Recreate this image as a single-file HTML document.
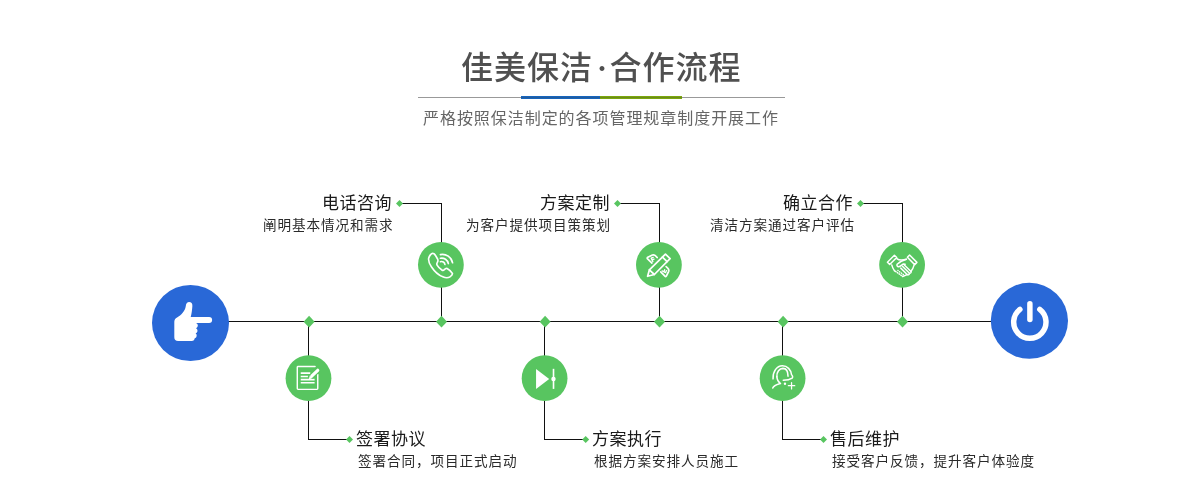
<!DOCTYPE html>
<html lang="zh-CN">
<head>
<meta charset="utf-8">
<title>佳美保洁·合作流程</title>
<style>
html,body{margin:0;padding:0;background:#fff;}
body{width:1202px;height:502px;position:relative;overflow:hidden;font-family:"Liberation Sans","Noto Sans CJK SC",sans-serif;}
#gfx{position:absolute;left:0;top:0;width:1202px;height:502px;}
.t{position:absolute;white-space:nowrap;line-height:1;will-change:transform;}
.title{left:461px;top:52px;font-size:32px;color:#505050;letter-spacing:1px;font-weight:500;}
.title i{font-style:normal;font-family:"Noto Sans CJK SC",sans-serif;font-size:21px;margin:0 -4px 0 -1.5px;position:relative;top:-3.5px;}
.sub{left:423px;top:110.5px;font-size:16px;color:#666;letter-spacing:0.95px;}
.h{font-size:17px;color:#1a1a1a;font-weight:400;letter-spacing:0.5px;}
.d{font-size:13.6px;color:#2a2a2a;font-weight:400;letter-spacing:0.9px;}
.r{text-align:right;}
</style>
</head>
<body>
<svg id="gfx" width="1202" height="502" viewBox="0 0 1202 502">
<rect x="418" y="97" width="367" height="1" fill="#999"/>
<rect x="521" y="96" width="79" height="3" fill="#1665bd"/>
<rect x="600" y="96" width="82" height="3" fill="#7ba70c"/>
<rect x="521" y="97" width="161" height="1" fill="#444" fill-opacity="0.3"/>
<g fill="none" stroke="#111" stroke-width="1.2" shape-rendering="crispEdges">
<path d="M228 321.5H992"/>
<path d="M399.5 203.5H441.5V321"/>
<path d="M617.5 203.5H659.5V321"/>
<path d="M860.5 203.5H902.5V321"/>
<path d="M308.5 321V439.5H349.5"/>
<path d="M544.5 321V439.5H585.7"/>
<path d="M782.5 321V439.5H823.5"/>
</g>
<g fill="#58c560">
<path d="M309.10 315.80L314.60 321.70L309.10 327.60L303.60 321.70Z"/>
<path d="M441.50 315.80L447.00 321.70L441.50 327.60L436.00 321.70Z"/>
<path d="M545.10 315.80L550.60 321.70L545.10 327.60L539.60 321.70Z"/>
<path d="M659.50 315.80L665.00 321.70L659.50 327.60L654.00 321.70Z"/>
<path d="M783.10 315.80L788.60 321.70L783.10 327.60L777.60 321.70Z"/>
<path d="M902.50 315.80L908.00 321.70L902.50 327.60L897.00 321.70Z"/>
<path d="M399.50 200.00L403.00 203.50L399.50 207.00L396.00 203.50Z"/>
<path d="M617.50 200.00L621.00 203.50L617.50 207.00L614.00 203.50Z"/>
<path d="M860.50 200.00L864.00 203.50L860.50 207.00L857.00 203.50Z"/>
<path d="M349.50 436.00L353.00 439.50L349.50 443.00L346.00 439.50Z"/>
<path d="M585.70 436.00L589.20 439.50L585.70 443.00L582.20 439.50Z"/>
<path d="M823.50 436.00L827.00 439.50L823.50 443.00L820.00 439.50Z"/>
<circle cx="440.9" cy="264.8" r="22.9"/>
<circle cx="658.9" cy="264.9" r="22.9"/>
<circle cx="902.1" cy="264.9" r="22.9"/>
<circle cx="308.5" cy="378.2" r="22.9"/>
<circle cx="544.6" cy="378.2" r="22.9"/>
<circle cx="782.6" cy="378.2" r="22.9"/>
</g>
<ellipse cx="190.5" cy="323" rx="38.5" ry="38.1" fill="#2968d7"/>
<ellipse cx="1029.4" cy="320.8" rx="38.6" ry="38" fill="#2968d7"/>
<g transform="translate(165 295) scale(0.10949)" fill="#fff"><path d="M85 245C85 225 94 214 110 205C148 182 183 148 190 100C192 78 205 65 220 65C240 65 252 80 250 100C248 135 243 170 235 200H403A27.500 27.500 0 0 1 403 255H284A26 26 0 0 1 284 303A26 26 0 0 1 280 350A26 26 0 0 1 272 395A28 28 0 0 1 247 420H120A35 35 0 0 1 85 385Z"/></g>
<g transform="translate(1000 295) scale(0.10949)" fill="none" stroke="#fff" stroke-width="50" stroke-linecap="round"><path d="M181.700 131.300A147.500 147.500 0 1 0 363.300 131.300"/><path d="M273 80V223"/></g>
<g transform="translate(417 241) scale(0.09562)" fill="none" stroke="#fff" stroke-width="17" stroke-linecap="round" stroke-linejoin="round"><path d="M165 130C150 128 128 155 122 180C118 205 130 240 150 270C180 315 230 360 270 375C300 388 325 388 345 375C360 365 375 352 370 338C360 320 335 300 315 288C305 283 295 290 285 300C278 308 270 310 260 303C240 290 222 272 212 255C205 243 205 235 212 225C220 212 222 200 215 188C205 170 190 145 180 135C175 131 170 130 165 130Z"/><path d="M245 142A108 108 0 0 1 372 228"/><path d="M245 180A70 70 0 0 1 328 236"/><path d="M245 216A36 36 0 0 1 292 246"/></g>
<g transform="translate(643 249) scale(0.06375)" fill="none" stroke="#fff" stroke-width="27" stroke-linecap="round" stroke-linejoin="round"><path d="M222 135C200 105 175 86 148 95L76 130Q58 141 72 154L140 220"/><path d="M128 143L155 198M128 143L160 130M142 170L174 158" stroke-width="20"/><path d="M363 276C393 298 412 323 403 350L368 422Q357 440 344 426L278 358"/><path d="M355 370L300 343M355 370L368 338M328 356L340 324" stroke-width="20"/><path d="M352 80L425 152L178 400L72 428L100 328Z"/><path d="M100 328L178 400"/><path d="M305 127L378 199"/></g>
<g transform="translate(886 249) scale(0.06375)" fill="none" stroke="#fff" stroke-width="23" stroke-linecap="round" stroke-linejoin="round"><path d="M22 207L132 97L168 133L58 243Z"/><path d="M370 95L485 210L450 245L335 130Z"/><path d="M170 150C200 175 260 175 320 160"/><path d="M320 160C270 175 215 200 175 238C165 255 175 280 200 278C230 270 250 245 272 235L300 240"/><path d="M90 250C100 290 115 320 135 345"/><path d="M440 252C430 290 415 320 395 345"/><path d="M232 300L332 400M258 272L368 382M288 250L392 352"/><path d="M332 400C345 412 365 405 368 382C385 385 398 370 392 352"/><path d="M150 350L260 430" stroke-dasharray="8 26" stroke-width="24"/><path d="M185 335L290 415" stroke-dasharray="8 26" stroke-width="20"/><path d="M262 432L330 402"/></g>
<g transform="translate(284 354) scale(0.09562)" fill="none" stroke="#fff" stroke-linecap="round" stroke-linejoin="round"><path stroke-width="15" d="M353 215V362A8 8 0 0 1 345 370H147A8 8 0 0 1 139 362V138A8 8 0 0 1 147 130H325"/><path stroke-width="16" stroke-linecap="butt" d="M175 200H275M175 235H250M175 268H320M175 300H320"/><path stroke-width="56" stroke="#58c560" d="M355 168L292 230"/><path stroke-width="33" d="M353 170L292 230"/><path fill="#fff" stroke="none" d="M258 266L270 224L300 252Z"/></g>
<g transform="translate(520 354) scale(0.09562)" fill="#fff"><path d="M168 158V365L305 262Z"/><rect x="342" y="155" width="17" height="210"/><circle cx="350" cy="262" r="23"/></g>
<g transform="translate(767 362) scale(0.06375)" fill="none" stroke="#fff" stroke-width="24" stroke-linecap="round" stroke-linejoin="round"><path d="M95 265C90 150 150 62 242 60C320 60 375 120 385 200C402 212 408 240 395 252C360 275 310 285 255 285"/><path d="M155 230C150 150 195 102 250 100C300 100 330 150 330 225"/><path d="M155 230C158 280 180 315 212 338C170 350 110 360 90 408"/><path d="M335 372H435M385 322V422" stroke-width="20"/><circle cx="282" cy="340" r="19" fill="#fff" stroke="none"/></g>
</svg>
<div class="t title">佳美保洁<i>·</i>合作流程</div>
<div class="t sub">严格按照保洁制定的各项管理规章制度开展工作</div>

<div class="t h r" style="right:810px;top:194.5px;">电话咨询</div>
<div class="t d r" style="right:809px;top:219px;">阐明基本情况和需求</div>
<div class="t h r" style="right:592px;top:194.5px;">方案定制</div>
<div class="t d r" style="right:591.5px;top:219px;">为客户提供项目策策划</div>
<div class="t h r" style="right:349px;top:194.5px;">确立合作</div>
<div class="t d r" style="right:347px;top:219px;">清洁方案通过客户评估</div>

<div class="t h" style="left:356px;top:431px;">签署协议</div>
<div class="t d" style="left:358px;top:455px;">签署合同，项目正式启动</div>
<div class="t h" style="left:592px;top:431px;">方案执行</div>
<div class="t d" style="left:594px;top:455px;">根据方案安排人员施工</div>
<div class="t h" style="left:830px;top:431px;">售后维护</div>
<div class="t d" style="left:832px;top:455px;">接受客户反馈，提升客户体验度</div>
</body>
</html>
